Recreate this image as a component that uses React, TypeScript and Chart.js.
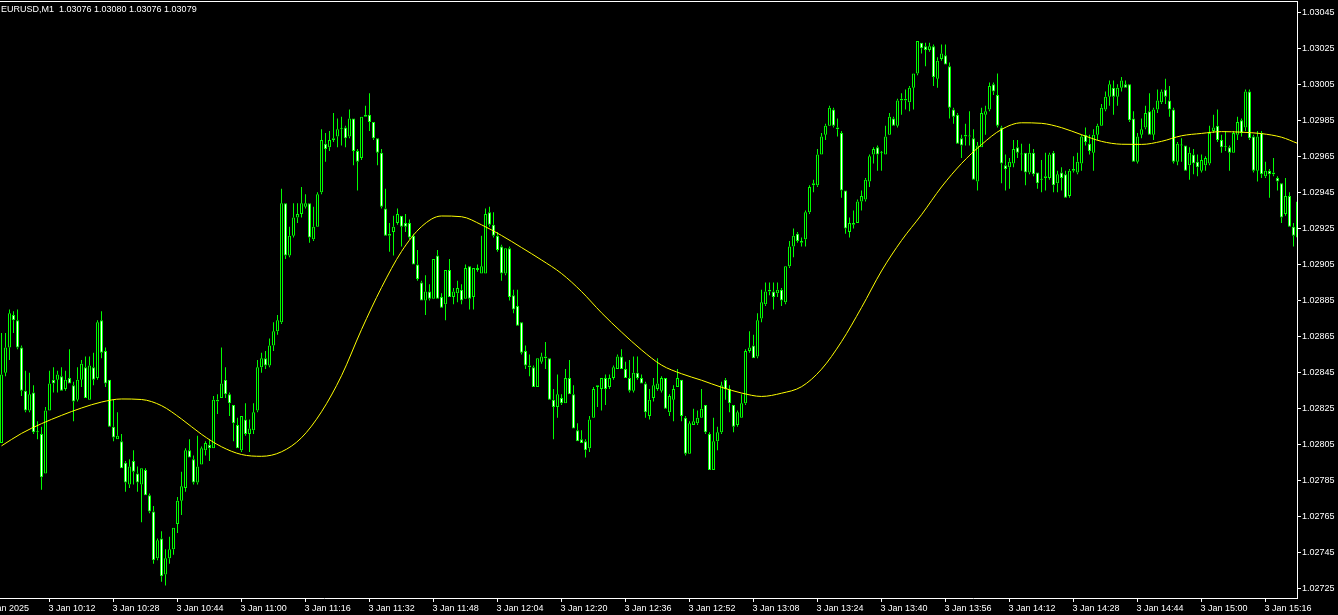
import React, { useEffect, useRef } from 'react';
import { Chart, registerables } from 'chart.js';

Chart.register(...registerables);

const symbolTitle = 'EURUSD,M1  1.03076 1.03080 1.03076 1.03079';

// one-minute candles, 3 Jan 2025 10:00 .. 15:24
const opens = [1.02806,1.02845,1.02859,1.02877,1.02874,1.02859,1.02835,1.02824,1.02834,1.02812,
1.02811,1.02789,1.02824,1.02841,1.02841,1.02843,1.02836,1.02842,1.02838,1.02830,
1.02841,1.02848,1.02830,1.02848,1.02842,1.02874,1.02857,1.02841,1.02815,1.02808,
1.02807,1.02795,1.02783,1.02796,1.02789,1.02783,1.02791,1.02777,1.02768,1.02742,
1.02753,1.02733,1.02742,1.02747,1.02761,1.02774,1.02781,1.02802,1.02797,1.02784,
1.02794,1.02802,1.02805,1.02803,1.02830,1.02831,1.02841,1.02833,1.02827,1.02816,
1.02802,1.02819,1.02811,1.02813,1.02824,1.02848,1.02853,1.02849,1.02860,1.02868,
1.02873,1.02939,1.02910,1.02921,1.02931,1.02933,1.02937,1.02939,1.02919,1.02926,
1.02945,1.02972,1.02970,1.02975,1.02976,1.02980,1.02981,1.02976,1.02986,1.02968,
1.02964,1.02987,1.02988,1.02984,1.02975,1.02967,1.02936,1.02922,1.02923,1.02928,
1.02932,1.02928,1.02928,1.02921,1.02905,1.02895,1.02885,1.02890,1.02886,1.02910,
1.02887,1.02883,1.02902,1.02887,1.02889,1.02891,1.02886,1.02904,1.02887,1.02903,
1.02900,1.02900,1.02934,1.02927,1.02921,1.02915,1.02900,1.02914,1.02888,1.02882,
1.02873,1.02857,1.02849,1.02848,1.02837,1.02851,1.02854,1.02853,1.02830,1.02826,
1.02831,1.02828,1.02842,1.02833,1.02813,1.02808,1.02807,1.02803,1.02820,1.02837,
1.02836,1.02842,1.02837,1.02842,1.02847,1.02854,1.02847,1.02842,1.02835,1.02845,
1.02842,1.02839,1.02821,1.02831,1.02836,1.02835,1.02842,1.02823,1.02830,1.02837,
1.02841,1.02820,1.02800,1.02816,1.02817,1.02820,1.02827,1.02811,1.02791,1.02807,
1.02812,1.02841,1.02836,1.02827,1.02816,1.02820,1.02828,1.02857,1.02860,1.02854,
1.02875,1.02883,1.02890,1.02890,1.02889,1.02891,1.02884,1.02904,1.02915,1.02922,
1.02918,1.02919,1.02934,1.02949,1.02949,1.02966,1.02977,1.02982,1.02991,1.02981,
1.02978,1.02946,1.02923,1.02927,1.02928,1.02940,1.02941,1.02951,1.02966,1.02970,
1.02967,1.02966,1.02977,1.02986,1.02982,1.02997,1.02997,1.02995,1.03003,1.03011,
1.03028,1.03026,1.03024,1.03026,1.03008,1.03019,1.03021,1.03015,1.02991,1.02988,
1.02975,1.02977,1.02976,1.02975,1.02951,1.02970,1.02988,1.02991,1.03005,1.02999,
1.02981,1.02960,1.02959,1.02961,1.02970,1.02966,1.02967,1.02956,1.02967,1.02956,
1.02952,1.02953,1.02953,1.02967,1.02950,1.02956,1.02955,1.02943,1.02957,1.02956,
1.02961,1.02977,1.02972,1.02967,1.02977,1.02982,1.02991,1.02998,1.03003,1.02998,
1.03003,1.03005,1.03005,1.02986,1.02962,1.02977,1.02981,1.02990,1.02977,1.02991,
1.02995,1.03002,1.02996,1.02991,1.02962,1.02971,1.02971,1.02960,1.02966,1.02962,
1.02957,1.02960,1.02961,1.02979,1.02982,1.02974,1.02970,1.02970,1.02967,1.02977,
1.02985,1.02981,1.03001,1.02976,1.02957,1.02978,1.02954,1.02957,1.02956,1.02953,
1.02950,1.02933,1.02943,1.02926,1.02920];

const highs = [1.02867,1.02867,1.02880,1.02879,1.02880,1.02860,1.02846,1.02845,1.02838,1.02818,
1.02815,1.02826,1.02846,1.02848,1.02846,1.02848,1.02846,1.02858,1.02840,1.02848,
1.02852,1.02854,1.02854,1.02856,1.02874,1.02879,1.02859,1.02841,1.02830,1.02823,
1.02811,1.02796,1.02797,1.02802,1.02793,1.02792,1.02792,1.02778,1.02771,1.02753,
1.02757,1.02747,1.02754,1.02759,1.02776,1.02790,1.02803,1.02808,1.02799,1.02810,
1.02804,1.02807,1.02808,1.02832,1.02833,1.02859,1.02848,1.02834,1.02827,1.02820,
1.02821,1.02828,1.02819,1.02828,1.02852,1.02856,1.02857,1.02864,1.02873,1.02877,
1.02947,1.02939,1.02926,1.02939,1.02939,1.02948,1.02944,1.02939,1.02937,1.02945,
1.02980,1.02978,1.02979,1.02989,1.02986,1.02987,1.02982,1.02991,1.02986,1.02969,
1.02987,1.02993,1.03000,1.02984,1.02975,1.02969,1.02947,1.02928,1.02932,1.02936,
1.02932,1.02933,1.02930,1.02922,1.02913,1.02896,1.02899,1.02894,1.02908,1.02913,
1.02889,1.02902,1.02908,1.02892,1.02896,1.02894,1.02905,1.02904,1.02903,1.02905,
1.02921,1.02936,1.02937,1.02934,1.02923,1.02916,1.02914,1.02915,1.02891,1.02891,
1.02873,1.02860,1.02855,1.02849,1.02853,1.02856,1.02862,1.02853,1.02836,1.02844,
1.02833,1.02847,1.02852,1.02838,1.02817,1.02813,1.02808,1.02821,1.02837,1.02838,
1.02842,1.02844,1.02844,1.02849,1.02855,1.02858,1.02851,1.02852,1.02854,1.02854,
1.02844,1.02840,1.02836,1.02842,1.02853,1.02843,1.02842,1.02833,1.02838,1.02847,
1.02841,1.02821,1.02818,1.02825,1.02824,1.02836,1.02827,1.02812,1.02820,1.02815,
1.02840,1.02842,1.02838,1.02827,1.02824,1.02833,1.02858,1.02868,1.02866,1.02878,
1.02891,1.02895,1.02895,1.02895,1.02895,1.02892,1.02904,1.02918,1.02925,1.02923,
1.02920,1.02935,1.02949,1.02952,1.02969,1.02978,1.02983,1.02993,1.02992,1.02986,
1.02979,1.02946,1.02931,1.02935,1.02941,1.02946,1.02953,1.02966,1.02970,1.02971,
1.02968,1.02982,1.02989,1.02987,1.02997,1.03000,1.03002,1.03004,1.03011,1.03029,
1.03028,1.03028,1.03028,1.03027,1.03020,1.03027,1.03027,1.03017,1.02992,1.02989,
1.02977,1.02983,1.02990,1.02980,1.02973,1.02992,1.02993,1.03006,1.03006,1.03011,
1.02982,1.02966,1.02964,1.02974,1.02974,1.02972,1.02967,1.02972,1.02969,1.02956,
1.02963,1.02967,1.02967,1.02968,1.02957,1.02959,1.02957,1.02958,1.02965,1.02967,
1.02977,1.02981,1.02977,1.02980,1.02983,1.02994,1.03001,1.03007,1.03007,1.03005,
1.03009,1.03007,1.03005,1.02990,1.02978,1.02986,1.02993,1.03000,1.02992,1.03002,
1.03002,1.03008,1.03004,1.02992,1.02973,1.02975,1.02971,1.02970,1.02969,1.02966,
1.02966,1.02965,1.02982,1.02988,1.02991,1.02977,1.02979,1.02971,1.02979,1.02987,
1.02986,1.03002,1.03002,1.02977,1.02979,1.02979,1.02962,1.02958,1.02964,1.02954,
1.02950,1.02953,1.02945,1.02928,1.02942];

const lows = [1.02806,1.02843,1.02852,1.02867,1.02858,1.02832,1.02823,1.02823,1.02811,1.02808,
1.02780,1.02789,1.02824,1.02834,1.02834,1.02835,1.02835,1.02839,1.02818,1.02829,
1.02837,1.02831,1.02830,1.02838,1.02841,1.02853,1.02837,1.02815,1.02807,1.02808,
1.02792,1.02779,1.02781,1.02783,1.02779,1.02762,1.02777,1.02767,1.02739,1.02741,
1.02729,1.02727,1.02739,1.02744,1.02756,1.02766,1.02779,1.02798,1.02783,1.02783,
1.02794,1.02799,1.02796,1.02803,1.02822,1.02831,1.02831,1.02821,1.02807,1.02803,
1.02801,1.02810,1.02801,1.02811,1.02823,1.02845,1.02847,1.02848,1.02857,1.02866,
1.02872,1.02908,1.02909,1.02920,1.02928,1.02931,1.02936,1.02917,1.02918,1.02926,
1.02944,1.02962,1.02968,1.02973,1.02970,1.02971,1.02970,1.02975,1.02960,1.02946,
1.02963,1.02987,1.02979,1.02974,1.02960,1.02936,1.02921,1.02912,1.02910,1.02927,
1.02915,1.02923,1.02919,1.02905,1.02896,1.02885,1.02877,1.02885,1.02886,1.02886,
1.02881,1.02874,1.02887,1.02883,1.02884,1.02883,1.02886,1.02880,1.02880,1.02901,
1.02900,1.02900,1.02926,1.02920,1.02912,1.02896,1.02899,1.02885,1.02878,1.02871,
1.02855,1.02847,1.02843,1.02837,1.02837,1.02850,1.02847,1.02830,1.02808,1.02820,
1.02827,1.02828,1.02833,1.02814,1.02807,1.02806,1.02798,1.02801,1.02820,1.02826,
1.02824,1.02827,1.02836,1.02841,1.02847,1.02847,1.02842,1.02834,1.02834,1.02841,
1.02839,1.02820,1.02819,1.02829,1.02835,1.02834,1.02825,1.02821,1.02818,1.02837,
1.02818,1.02799,1.02800,1.02816,1.02816,1.02820,1.02811,1.02791,1.02791,1.02802,
1.02811,1.02830,1.02823,1.02812,1.02815,1.02820,1.02827,1.02856,1.02853,1.02853,
1.02873,1.02882,1.02888,1.02880,1.02887,1.02882,1.02883,1.02903,1.02909,1.02917,
1.02915,1.02915,1.02933,1.02945,1.02948,1.02966,1.02974,1.02982,1.02981,1.02976,
1.02942,1.02922,1.02920,1.02925,1.02928,1.02935,1.02940,1.02948,1.02961,1.02957,
1.02957,1.02966,1.02977,1.02982,1.02981,1.02988,1.02991,1.02990,1.02991,1.03010,
1.03022,1.03015,1.03023,1.03004,1.03003,1.03018,1.03016,1.02986,1.02983,1.02972,
1.02964,1.02971,1.02971,1.02952,1.02946,1.02970,1.02977,1.02990,1.02999,1.02981,
1.02950,1.02946,1.02947,1.02959,1.02964,1.02957,1.02949,1.02955,1.02954,1.02947,
1.02945,1.02946,1.02952,1.02945,1.02945,1.02946,1.02942,1.02942,1.02956,1.02955,
1.02957,1.02971,1.02966,1.02957,1.02974,1.02982,1.02990,1.02993,1.02988,1.02993,
1.03001,1.03003,1.02984,1.02962,1.02961,1.02975,1.02980,1.02977,1.02974,1.02989,
1.02994,1.02994,1.02987,1.02961,1.02960,1.02962,1.02957,1.02952,1.02955,1.02954,
1.02956,1.02957,1.02960,1.02978,1.02973,1.02967,1.02968,1.02957,1.02967,1.02974,
1.02976,1.02979,1.02974,1.02956,1.02951,1.02953,1.02953,1.02942,1.02954,1.02946,
1.02928,1.02932,1.02926,1.02915,1.02919];

const closes = [1.02844,1.02859,1.02878,1.02874,1.02859,1.02835,1.02824,1.02833,1.02812,1.02812,
1.02787,1.02824,1.02839,1.02839,1.02844,1.02835,1.02841,1.02839,1.02829,1.02841,
1.02850,1.02831,1.02849,1.02841,1.02873,1.02856,1.02839,1.02815,1.02809,1.02810,
1.02792,1.02784,1.02793,1.02790,1.02784,1.02792,1.02777,1.02768,1.02741,1.02752,
1.02732,1.02742,1.02747,1.02759,1.02774,1.02782,1.02802,1.02798,1.02784,1.02793,
1.02803,1.02806,1.02803,1.02830,1.02829,1.02839,1.02833,1.02828,1.02817,1.02803,
1.02821,1.02811,1.02814,1.02823,1.02848,1.02853,1.02849,1.02860,1.02868,1.02874,
1.02939,1.02910,1.02921,1.02931,1.02933,1.02939,1.02939,1.02920,1.02926,1.02944,
1.02974,1.02969,1.02974,1.02974,1.02980,1.02980,1.02975,1.02986,1.02968,1.02962,
1.02987,1.02988,1.02984,1.02975,1.02967,1.02937,1.02921,1.02921,1.02926,1.02933,
1.02926,1.02926,1.02920,1.02905,1.02897,1.02885,1.02890,1.02886,1.02908,1.02886,
1.02881,1.02902,1.02887,1.02890,1.02892,1.02885,1.02903,1.02886,1.02903,1.02902,
1.02904,1.02933,1.02927,1.02921,1.02913,1.02900,1.02914,1.02887,1.02880,1.02871,
1.02856,1.02849,1.02848,1.02837,1.02853,1.02854,1.02853,1.02830,1.02826,1.02833,
1.02828,1.02842,1.02833,1.02814,1.02807,1.02806,1.02802,1.02819,1.02836,1.02838,
1.02842,1.02836,1.02842,1.02848,1.02854,1.02847,1.02842,1.02835,1.02845,1.02842,
1.02839,1.02823,1.02830,1.02838,1.02839,1.02842,1.02825,1.02832,1.02836,1.02842,
1.02821,1.02800,1.02817,1.02818,1.02820,1.02825,1.02812,1.02791,1.02807,1.02812,
1.02838,1.02836,1.02828,1.02815,1.02823,1.02828,1.02857,1.02859,1.02853,1.02874,
1.02884,1.02890,1.02891,1.02887,1.02891,1.02885,1.02904,1.02915,1.02921,1.02918,
1.02917,1.02934,1.02948,1.02950,1.02966,1.02976,1.02982,1.02992,1.02982,1.02980,
1.02946,1.02925,1.02928,1.02928,1.02940,1.02943,1.02952,1.02965,1.02969,1.02966,
1.02967,1.02976,1.02987,1.02982,1.02996,1.02996,1.02996,1.03003,1.03011,1.03029,
1.03025,1.03024,1.03026,1.03009,1.03018,1.03022,1.03016,1.02992,1.02987,1.02972,
1.02971,1.02976,1.02976,1.02952,1.02971,1.02989,1.02990,1.03004,1.03001,1.02982,
1.02961,1.02958,1.02962,1.02969,1.02967,1.02966,1.02956,1.02967,1.02955,1.02950,
1.02952,1.02954,1.02966,1.02949,1.02955,1.02953,1.02942,1.02957,1.02958,1.02962,
1.02976,1.02973,1.02968,1.02977,1.02982,1.02992,1.02998,1.03005,1.02998,1.03003,
1.03007,1.03003,1.02985,1.02962,1.02976,1.02980,1.02989,1.02977,1.02991,1.02996,
1.03001,1.02998,1.02991,1.02962,1.02972,1.02971,1.02957,1.02967,1.02961,1.02959,
1.02963,1.02964,1.02978,1.02981,1.02974,1.02970,1.02970,1.02967,1.02978,1.02984,
1.02978,1.03001,1.02975,1.02957,1.02976,1.02955,1.02957,1.02955,1.02955,1.02951,
1.02931,1.02943,1.02926,1.02921,1.02940];

// moving average read at every 5th bar
const maIndex = [0,5,10,15,20,25,30,35,40,45,50,55,60,65,70,75,80,85,90,95,100,105,110,115,120,125,130,135,140,145,150,155,160,165,170,175,180,185,190,195,200,205,210,215,220,225,230,235,240,245,250,255,260,265,270,275,280,285,290,295,300,305,310,315,320,324];
const maValues = [1.028044,1.028113,1.028167,1.028213,1.028254,1.028287,1.028304,1.028301,1.028267,1.028193,
1.028108,1.028039,1.027996,1.027986,1.028011,1.028089,1.028233,1.028433,1.028689,1.028922,
1.029122,1.029260,1.029319,1.029315,1.029270,1.029211,1.029144,1.029075,1.029000,1.028900,
1.028782,1.028675,1.028576,1.028492,1.028444,1.028408,1.028369,1.028337,1.028318,1.028336,
1.028372,1.028469,1.028622,1.028811,1.029014,1.029183,1.029326,1.029480,1.029610,1.029715,
1.029799,1.029836,1.029833,1.029809,1.029770,1.029733,1.029717,1.029716,1.029733,1.029764,
1.029777,1.029787,1.029784,1.029776,1.029756,1.029722];

const yTickValues = [1.02725,1.02745,1.02765,1.02785,1.02805,1.02825,1.02845,1.02865,1.02885,1.02905,1.02925,1.02945,1.02965,1.02985,1.03005,1.03025,1.03045];
const xTickIndex = [-4,12,28,44,60,76,92,108,124,140,156,172,188,204,220,236,252,268,284,300,316];
const xTickLabels = ['3 Jan 2025','3 Jan 10:12','3 Jan 10:28','3 Jan 10:44','3 Jan 11:00','3 Jan 11:16','3 Jan 11:32','3 Jan 11:48','3 Jan 12:04','3 Jan 12:20','3 Jan 12:36','3 Jan 12:52','3 Jan 13:08','3 Jan 13:24','3 Jan 13:40','3 Jan 13:56','3 Jan 14:12','3 Jan 14:28','3 Jan 14:44','3 Jan 15:00','3 Jan 15:16'];

const Y_MIN = 1.0272;
const Y_MAX = 1.030506;
const X_MIN = -0.375;
const X_MAX = 323.875;

const GREEN = '#00FF00';
const FONT = { family: '"Liberation Sans", Arial, sans-serif', size: 9 };

const frameAndTitle = {
  id: 'frameAndTitle',
  afterDraw(chart: any) {
    const { ctx, chartArea } = chart;
    ctx.save();
    ctx.fillStyle = '#FFFFFF';
    ctx.fillRect(0, 1, chartArea.right + 1, 1);
    ctx.font = '9px "Liberation Sans", Arial, sans-serif';
    ctx.textBaseline = 'alphabetic';
    ctx.textAlign = 'left';
    ctx.fillText(symbolTitle, 1, 12);
    ctx.restore();
  },
};

export default function App() {
  const ref = useRef<HTMLCanvasElement>(null);

  useEffect(() => {
    document.body.style.margin = '0';
    document.body.style.background = '#000000';
    const canvas = ref.current;
    if (!canvas) return;

    // wicks split above and below the body so they never cover the body fill
    const upperWick = opens.map((o, i) => ({ x: i, y: [Math.max(o, closes[i]), highs[i]] }));
    const lowerWick = opens.map((o, i) => ({ x: i, y: [lows[i], Math.min(o, closes[i])] }));
    const bodyData = opens.map((o, i) => ({ x: i, y: [o, closes[i]] }));
    const bodyFill = opens.map((o, i) => (closes[i] >= o ? '#000000' : '#FFFFFF'));
    const maData = maIndex.map((x, k) => ({ x, y: maValues[k] }));

    const wickStyle = {
      type: 'bar',
      backgroundColor: GREEN,
      borderWidth: 0,
      barThickness: 1,
      maxBarThickness: 1,
      grouped: false,
      inflateAmount: 0,
      order: 2,
    };

    const chart = new Chart(canvas, {
      type: 'bar',
      data: {
        datasets: [
          {
            type: 'line',
            data: maData as any,
            borderColor: '#FFFF00',
            borderWidth: 1,
            pointRadius: 0,
            cubicInterpolationMode: 'monotone',
            fill: false,
            order: 0,
          } as any,
          {
            type: 'bar',
            data: bodyData as any,
            backgroundColor: bodyFill,
            borderColor: GREEN,
            borderWidth: 1,
            borderSkipped: false,
            barThickness: 3,
            maxBarThickness: 3,
            minBarLength: 1,
            grouped: false,
            inflateAmount: 0,
            order: 1,
          } as any,
          { ...wickStyle, data: upperWick } as any,
          { ...wickStyle, data: lowerWick } as any,
        ],
      },
      options: {
        responsive: false,
        animation: false,
        devicePixelRatio: 1,
        events: [],
        layout: { padding: { top: 2, left: 0, right: 0, bottom: 0 } },
        plugins: {
          legend: { display: false },
          tooltip: { enabled: false },
          title: { display: false },
        },
        scales: {
          x: {
            type: 'linear',
            min: X_MIN,
            max: X_MAX,
            offset: false,
            grid: {
              display: true,
              drawOnChartArea: false,
              drawTicks: true,
              tickLength: 4,
              color: '#FFFFFF',
              tickColor: '#FFFFFF',
              offset: false,
            },
            border: { display: true, color: '#FFFFFF', width: 1 },
            ticks: {
              autoSkip: false,
              maxRotation: 0,
              minRotation: 0,
              align: 'start',
              padding: 1,
              labelOffset: -1,
              color: '#FFFFFF',
              font: FONT,
              callback: (v: any) => {
                const k = xTickIndex.indexOf(Number(v));
                return k >= 0 ? xTickLabels[k] : '';
              },
            },
            afterBuildTicks: (axis: any) => {
              axis.ticks = xTickIndex.map((v) => ({ value: v }));
            },
            afterFit: (axis: any) => {
              axis.height = 17;
              axis.paddingLeft = 0;
              axis.paddingRight = 0;
            },
          } as any,
          y: {
            type: 'linear',
            position: 'right',
            min: Y_MIN,
            max: Y_MAX,
            grid: {
              display: true,
              drawOnChartArea: false,
              drawTicks: true,
              tickLength: 4,
              color: '#FFFFFF',
              tickColor: '#FFFFFF',
            },
            border: { display: true, color: '#FFFFFF', width: 1 },
            ticks: {
              padding: 1,
              color: '#FFFFFF',
              font: FONT,
              callback: (v: any) => Number(v).toFixed(5),
            },
            afterBuildTicks: (axis: any) => {
              axis.ticks = yTickValues.map((v) => ({ value: v }));
            },
            afterFit: (axis: any) => {
              axis.width = 41;
              axis.paddingTop = 0;
              axis.paddingBottom = 0;
            },
          } as any,
        },
      },
      plugins: [frameAndTitle],
    });

    return () => chart.destroy();
  }, []);

  return (
    <canvas
      ref={ref}
      width={1338}
      height={615}
      style={{ display: 'block', background: '#000000' }}
    />
  );
}
